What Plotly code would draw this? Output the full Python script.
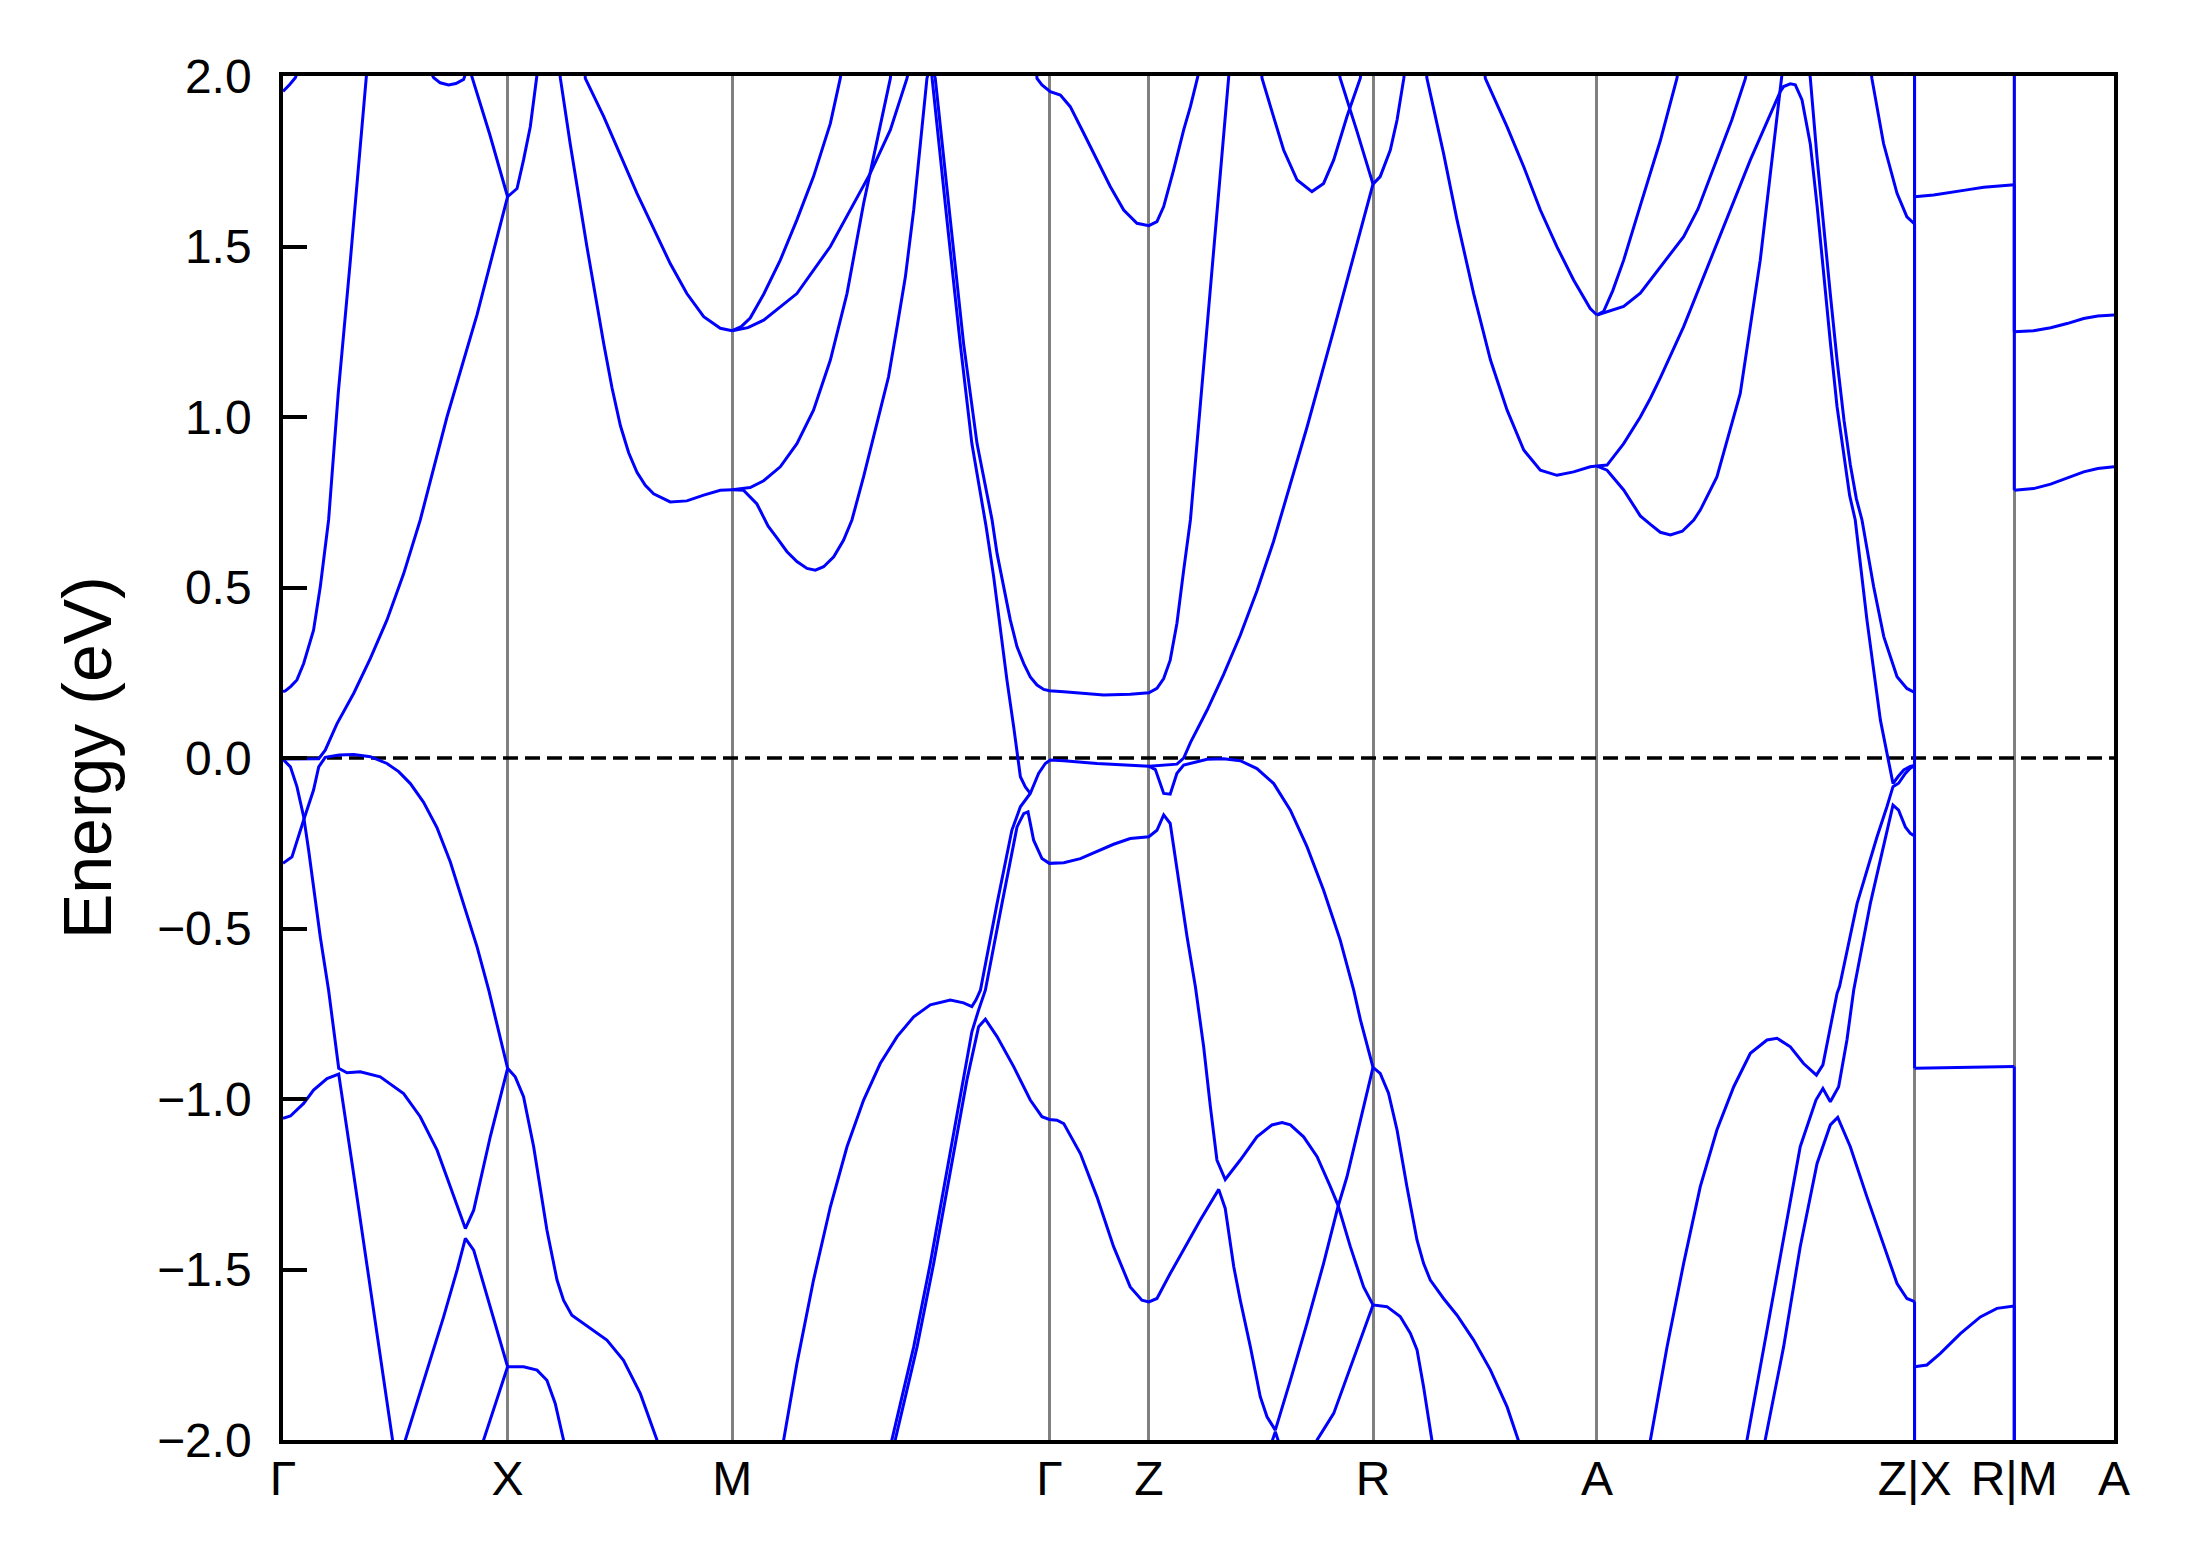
import plotly.graph_objects as go

# ---------------- axes / labels ----------------
K_TICKS = [0.0, 1.0, 2.0, 3.412, 3.855, 4.853, 5.850, 7.264, 7.708, 8.152]
K_LABELS = ["Γ", "X", "M", "Γ", "Z", "R", "A", "Z|X", "R|M", "A"]
E_TICKS = [-2.0, -1.5, -1.0, -0.5, 0.0, 0.5, 1.0, 1.5, 2.0]
E_LABELS = ["−2.0", "−1.5", "−1.0", "−0.5", "0.0", "0.5", "1.0", "1.5", "2.0"]
E_RANGE = [-2.0, 2.0]
FERMI = 0.0

# ---------------- bands (k-distance, energy in eV) ----------------
# Gamma - X - M
g_cb_steep_k = [0.0, 0.010, 0.035, 0.062, 0.092, 0.115, 0.136, 0.166, 0.185, 0.203, 0.246, 0.300, 0.371, 0.39]
g_cb_steep_e = [0.195, 0.197, 0.21, 0.229, 0.277, 0.33, 0.375, 0.502, 0.60, 0.698, 1.07, 1.46, 1.998, 2.14]

g_flat_up_k = [0.0, 0.08, 0.159, 0.188, 0.24, 0.315, 0.389, 0.463, 0.537, 0.611, 0.73, 0.864, 1.0]
g_flat_up_e = [-0.003, -0.003, -0.002, 0.023, 0.10, 0.19, 0.292, 0.405, 0.54, 0.698, 1.0, 1.30, 1.646]

x_upper_k = [0.82, 0.841, 0.92, 1.0, 1.042, 1.071, 1.101, 1.131, 1.14]
x_upper_e = [2.07, 1.998, 1.83, 1.646, 1.67, 1.754, 1.851, 1.993, 2.05]

gx_top_dip_k = [0.65, 0.671, 0.70, 0.737, 0.77, 0.804, 0.82]
gx_top_dip_e = [2.02, 1.995, 1.98, 1.974, 1.978, 1.99, 2.02]

g_top_k = [0.0, 0.03, 0.055, 0.08]
g_top_e = [1.955, 1.975, 1.995, 2.04]

gx_vb1_k = [0.0, 0.033, 0.062, 0.092, 0.114, 0.136, 0.166, 0.203, 0.248, 0.285, 0.344, 0.433,
            0.537, 0.611, 0.686, 0.745, 0.812, 0.849, 0.923, 1.0]
gx_vb1_e = [-0.004, -0.026, -0.084, -0.172, -0.27, -0.378, -0.525, -0.681, -0.910, -0.923, -0.920, -0.935,
            -0.984, -1.052, -1.15, -1.257, -1.380, -1.326, -1.11, -0.910]

gx_vb0_k = [0.0, 0.04, 0.092, 0.136, 0.159, 0.188, 0.25, 0.315, 0.389, 0.463, 0.515, 0.567, 0.626, 0.686, 0.745,
            0.804, 0.864, 0.916, 1.0, 1.034, 1.071, 1.116, 1.175, 1.220, 1.249, 1.286, 1.368, 1.442, 1.516,
            1.591, 1.665, 1.68]
gx_vb0_e = [-0.309, -0.29, -0.182, -0.094, -0.026, 0.002, 0.009, 0.01, 0.004, -0.016, -0.040, -0.075, -0.130, -0.205, -0.305,
            -0.427, -0.554, -0.681, -0.910, -0.935, -0.993, -1.14, -1.384, -1.531, -1.59, -1.634, -1.673, -1.707, -1.766,
            -1.864, -2.0, -2.03]

gx_vb2_k = [0.0, 0.033, 0.092, 0.136, 0.196, 0.248, 0.31, 0.37, 0.43, 0.49]
gx_vb2_e = [-1.057, -1.05, -1.013, -0.974, -0.940, -0.927, -1.20, -1.47, -1.74, -2.01]

x_low_k = [0.54, 0.641, 0.715, 0.775, 0.812, 0.849, 0.923, 1.0, 1.071, 1.131, 1.175, 1.212, 1.249, 1.26]
x_low_e = [-2.01, -1.795, -1.639, -1.502, -1.409, -1.443, -1.609, -1.785, -1.785, -1.795, -1.825, -1.893, -2.0, -2.05]

x_low2_k = [0.88, 0.893, 1.0]
x_low2_e = [-2.05, -2.0, -1.785]

xm_cb1_k = [1.225, 1.235, 1.279, 1.353, 1.428, 1.465, 1.502, 1.539, 1.576, 1.613, 1.650, 1.724, 1.798, 1.873, 1.947, 2.0]
xm_cb1_e = [2.06, 1.993, 1.80, 1.50, 1.215, 1.085, 0.975, 0.895, 0.838, 0.800, 0.775, 0.751, 0.754, 0.771, 0.785, 0.787]

xm_cb2_k = [1.34, 1.346, 1.428, 1.576, 1.724, 1.798, 1.873, 1.947, 2.0]
xm_cb2_e = [2.05, 1.993, 1.881, 1.656, 1.450, 1.362, 1.294, 1.26, 1.253]

# M - Gamma
mg_cb2a_k = [2.0, 2.04, 2.08, 2.14, 2.214, 2.288, 2.362, 2.437, 2.481, 2.49]
mg_cb2a_e = [1.253, 1.265, 1.29, 1.36, 1.46, 1.578, 1.705, 1.861, 1.993, 2.03]

mg_cb2b_k = [2.0, 2.07, 2.14, 2.288, 2.437, 2.615, 2.704, 2.778, 2.79]
mg_cb2b_e = [1.253, 1.262, 1.284, 1.362, 1.5, 1.715, 1.842, 1.993, 2.03]

mg_cb1a_k = [2.0, 2.08, 2.14, 2.214, 2.288, 2.362, 2.437, 2.511, 2.585, 2.63, 2.704, 2.71]
mg_cb1a_e = [0.787, 0.793, 0.813, 0.854, 0.922, 1.02, 1.167, 1.362, 1.626, 1.763, 1.993, 2.03]

mg_cb1b_k = [2.0, 2.05, 2.11, 2.16, 2.20, 2.244, 2.288, 2.333, 2.37, 2.407, 2.452, 2.496, 2.533, 2.585,
             2.659, 2.696, 2.734, 2.771, 2.808, 2.837, 2.867, 2.885]
mg_cb1b_e = [0.787, 0.785, 0.745, 0.68, 0.645, 0.605, 0.576, 0.556, 0.551, 0.561, 0.59, 0.639, 0.698, 0.825,
             1.02, 1.118, 1.265, 1.411, 1.607, 1.80, 1.993, 2.04]

mg_cb3a_k = [2.885, 2.904, 2.971, 3.03, 3.09, 3.157, 3.179, 3.208, 3.238, 3.268, 3.298, 3.327, 3.357, 3.387,
             3.412, 3.476, 3.55, 3.654, 3.772, 3.855, 3.891, 3.921, 3.95, 3.98, 4.01, 4.04, 4.084, 4.21, 4.22]
mg_cb3a_e = [2.04, 1.993, 1.578, 1.216, 0.922, 0.698, 0.6, 0.502, 0.405, 0.326, 0.277, 0.238, 0.214, 0.201,
             0.197, 0.194, 0.19, 0.185, 0.187, 0.191, 0.204, 0.233, 0.287, 0.395, 0.551, 0.698, 1.035, 1.993, 2.07]

mg_cb3b_k = [2.885, 2.89, 2.956, 3.015, 3.067, 3.13, 3.164, 3.194, 3.223, 3.253, 3.283, 3.305, 3.327]
mg_cb3b_e = [2.04, 1.993, 1.578, 1.216, 0.922, 0.68, 0.532, 0.375, 0.229, 0.092, -0.055, -0.085, -0.104]

vb_top_k = [2.215, 2.229, 2.288, 2.362, 2.437, 2.511, 2.585, 2.659, 2.734, 2.808, 2.882, 2.971, 3.03, 3.067,
            3.085, 3.105, 3.179, 3.245, 3.283, 3.327, 3.364, 3.394, 3.416, 3.476, 3.624, 3.772, 3.855, 3.884,
            3.921, 3.95, 3.98, 4.01, 4.04, 4.114, 4.188, 4.262, 4.336, 4.411, 4.485, 4.559, 4.633, 4.707,
            4.767, 4.797, 4.853, 4.885, 4.922, 4.96, 5.004, 5.049, 5.078, 5.108, 5.167, 5.227, 5.301, 5.376,
            5.45, 5.501, 5.52]
vb_top_e = [-2.05, -2.0, -1.776, -1.531, -1.316, -1.14, -1.003, -0.896, -0.817, -0.759, -0.724, -0.71, -0.718, -0.729,
            -0.71, -0.681, -0.427, -0.212, -0.143, -0.104, -0.045, -0.016, -0.006, -0.008, -0.016, -0.022, -0.024, -0.034,
            -0.104, -0.106, -0.045, -0.021, -0.016, -0.004, -0.002, -0.008, -0.031, -0.075, -0.153, -0.26, -0.388, -0.534,
            -0.681, -0.768, -0.907, -0.925, -0.983, -1.091, -1.257, -1.414, -1.482, -1.531, -1.585, -1.634, -1.707, -1.795,
            -1.903, -2.0, -2.04]

vb_dl1_k = [2.70, 2.711, 2.808, 2.882, 2.956, 3.03, 3.067, 3.097, 3.127, 3.201, 3.268, 3.298, 3.317, 3.342,
            3.379, 3.412, 3.476, 3.55, 3.624, 3.698, 3.772, 3.855, 3.891, 3.921, 3.95, 3.98, 4.025, 4.062,
            4.099, 4.129, 4.158, 4.195, 4.262, 4.336, 4.403, 4.448, 4.485, 4.544, 4.604, 4.663, 4.697, 4.752,
            4.811, 4.853, 4.915, 4.974, 5.019, 5.049, 5.078, 5.115, 5.12]
vb_dl1_e = [-2.03, -2.0, -1.727, -1.482, -1.208, -0.944, -0.803, -0.739, -0.681, -0.427, -0.202, -0.163, -0.158, -0.241,
            -0.295, -0.309, -0.307, -0.295, -0.275, -0.253, -0.236, -0.231, -0.212, -0.167, -0.192, -0.329, -0.524, -0.67,
            -0.847, -1.023, -1.179, -1.236, -1.179, -1.111, -1.076, -1.069, -1.076, -1.111, -1.169, -1.257, -1.311, -1.433,
            -1.551, -1.604, -1.609, -1.638, -1.687, -1.736, -1.844, -2.0, -2.04]

vb_dl2_k = [2.715, 2.726, 2.823, 2.897, 2.971, 3.045, 3.097, 3.127, 3.179, 3.253, 3.327, 3.379, 3.412, 3.446,
            3.476, 3.55, 3.624, 3.698, 3.772, 3.824, 3.855, 3.891, 3.95, 4.025, 4.084, 4.166, 4.195, 4.233,
            4.262, 4.307, 4.351, 4.381, 4.418, 4.485, 4.559, 4.633, 4.697, 4.737, 4.797, 4.853]
vb_dl2_e = [-2.03, -2.0, -1.727, -1.482, -1.208, -0.944, -0.788, -0.766, -0.817, -0.905, -1.003, -1.052, -1.06, -1.062,
            -1.072, -1.16, -1.287, -1.433, -1.551, -1.59, -1.595, -1.585, -1.512, -1.424, -1.355, -1.265, -1.321, -1.492,
            -1.59, -1.727, -1.873, -1.932, -1.971, -1.825, -1.658, -1.482, -1.316, -1.228, -1.062, -0.907]

# Gamma - Z - R - A
gz_top_k = [3.35, 3.357, 3.379, 3.416, 3.461, 3.505, 3.565, 3.624, 3.683, 3.743, 3.802, 3.855, 3.891, 3.921,
            3.965, 4.01, 4.04, 4.069, 4.084]
gz_top_e = [2.05, 1.993, 1.974, 1.954, 1.944, 1.91, 1.832, 1.754, 1.676, 1.607, 1.568, 1.561, 1.573, 1.617,
            1.724, 1.842, 1.91, 1.988, 2.03]

zr_cb_k = [3.855, 3.95, 3.98, 4.01, 4.04, 4.114, 4.188, 4.262, 4.336, 4.41, 4.485, 4.559, 4.678, 4.782, 4.853,
           4.885, 4.93, 4.96, 4.99, 5.0]
zr_cb_e = [-0.024, -0.02, -0.018, 0.0, 0.045, 0.14, 0.245, 0.36, 0.49, 0.635, 0.80, 0.97, 1.255, 1.505, 1.683,
           1.705, 1.783, 1.871, 1.993, 2.05]

zr_top_dip_k = [4.35, 4.359, 4.41, 4.455, 4.515, 4.581, 4.633, 4.678, 4.737, 4.796, 4.805]
zr_top_dip_e = [2.05, 1.993, 1.881, 1.783, 1.695, 1.661, 1.685, 1.754, 1.881, 1.993, 2.03]

zr_to_r_k = [4.69, 4.707, 4.782, 4.853]
zr_to_r_e = [2.05, 1.993, 1.837, 1.683]

zr_lambda_k = [4.39, 4.418, 4.445]
zr_lambda_e = [-2.03, -1.976, -2.03]

zr_low_rise_k = [4.59, 4.604, 4.678, 4.752, 4.853]
zr_low_rise_e = [-2.03, -2.0, -1.922, -1.785, -1.604]

ra_cb1_k = [5.085, 5.093, 5.167, 5.227, 5.301, 5.376, 5.45, 5.524, 5.598, 5.672, 5.746, 5.82, 5.85]
ra_cb1_e = [2.05, 1.993, 1.773, 1.578, 1.362, 1.167, 1.020, 0.903, 0.844, 0.829, 0.839, 0.854, 0.856]

ra_cb2_k = [5.345, 5.353, 5.45, 5.524, 5.598, 5.672, 5.746, 5.82, 5.85]
ra_cb2_e = [2.05, 1.993, 1.851, 1.734, 1.607, 1.499, 1.402, 1.318, 1.299]

# A - Z
az_steep_k = [5.85, 5.88, 5.92, 5.969, 6.043, 6.132, 6.206, 6.215]
az_steep_e = [1.299, 1.31, 1.37, 1.46, 1.62, 1.81, 1.993, 2.03]

az_gentle_k = [5.85, 5.969, 6.043, 6.132, 6.236, 6.30, 6.384, 6.45, 6.511, 6.52]
az_gentle_e = [1.299, 1.324, 1.363, 1.441, 1.529, 1.61, 1.754, 1.87, 1.993, 2.03]

az_min_k = [5.85, 5.895, 5.969, 6.043, 6.088, 6.132, 6.177, 6.23, 6.281, 6.31, 6.384, 6.488, 6.577, 6.622,
            6.666, 6.674, 6.68]
az_min_e = [0.856, 0.844, 0.786, 0.71, 0.685, 0.662, 0.654, 0.665, 0.698, 0.727, 0.824, 1.069, 1.46, 1.705,
            1.949, 1.993, 2.04]

az_peak_k = [5.85, 5.895, 5.969, 6.043, 6.088, 6.132, 6.236, 6.384, 6.533, 6.666, 6.681, 6.711, 6.733, 6.763,
             6.8, 6.83, 6.859, 6.889, 6.919, 6.95, 6.975, 7.0, 7.052, 7.112, 7.149, 7.168, 7.19, 7.216, 7.245, 7.264]
az_peak_e = [0.856, 0.859, 0.922, 1.0, 1.055, 1.115, 1.265, 1.509, 1.754, 1.954, 1.969, 1.977, 1.974, 1.93,
             1.80, 1.62, 1.42, 1.22, 1.03, 0.88, 0.77, 0.698, 0.405, 0.111, -0.006, -0.075, -0.055, -0.035, -0.025, -0.022]

az_down_k = [6.79, 6.8, 6.83, 6.859, 6.889, 6.919, 6.95, 6.978, 7.005, 7.03, 7.082, 7.127, 7.186, 7.23, 7.264]
az_down_e = [2.05, 1.993, 1.76, 1.558, 1.36, 1.167, 0.99, 0.86, 0.76, 0.698, 0.502, 0.356, 0.238, 0.204, 0.192]

az_zend_k = [7.065, 7.074, 7.126, 7.186, 7.23, 7.264]
az_zend_e = [2.05, 1.993, 1.802, 1.656, 1.587, 1.566]

az_vb1_k = [6.08, 6.088, 6.162, 6.236, 6.31, 6.384, 6.459, 6.533, 6.607, 6.652, 6.711, 6.77, 6.827, 6.856, 6.919,
            6.93, 7.008, 7.097, 7.141, 7.168, 7.193, 7.223, 7.245, 7.264]
az_vb1_e = [-2.05, -2.0, -1.727, -1.482, -1.257, -1.091, -0.964, -0.866, -0.827, -0.822, -0.847, -0.896, -0.93, -0.9, -0.69,
            -0.67, -0.427, -0.231, -0.143, -0.084, -0.074, -0.045, -0.03, -0.022]

az_vb2_k = [6.51, 6.518, 6.607, 6.681, 6.755, 6.825, 6.856, 6.889, 6.926, 6.963, 6.993, 7.067, 7.127, 7.168, 7.193,
            7.223, 7.245, 7.264]
az_vb2_e = [-2.05, -2.0, -1.678, -1.414, -1.14, -1.003, -0.969, -1.008, -0.964, -0.827, -0.681, -0.427, -0.26, -0.138, -0.153,
            -0.202, -0.221, -0.229]

az_vb3_k = [6.59, 6.599, 6.681, 6.755, 6.83, 6.889, 6.922, 6.978, 7.052, 7.127, 7.186, 7.23, 7.264]
az_vb3_e = [-2.05, -2.0, -1.727, -1.433, -1.189, -1.076, -1.054, -1.14, -1.287, -1.433, -1.541, -1.585, -1.594]

# X - R and M - A
xr_hi_k = [7.264, 7.349, 7.497, 7.572, 7.708]
xr_hi_e = [1.646, 1.651, 1.666, 1.674, 1.681]
xr_mid_k = [7.264, 7.40, 7.55, 7.708]
xr_mid_e = [-0.910, -0.909, -0.907, -0.905]
xr_lo_k = [7.264, 7.319, 7.379, 7.468, 7.557, 7.631, 7.708]
xr_lo_e = [-1.785, -1.78, -1.746, -1.688, -1.639, -1.614, -1.607]
ma_hi_k = [7.708, 7.794, 7.87, 7.943, 8.017, 8.08, 8.152]
ma_hi_e = [1.25, 1.253, 1.262, 1.274, 1.289, 1.296, 1.299]
ma_lo_k = [7.708, 7.794, 7.87, 7.943, 8.017, 8.08, 8.152]
ma_lo_e = [0.785, 0.79, 0.803, 0.82, 0.839, 0.849, 0.854]

# path discontinuities (band energy at end of one segment -> start of the next)
JUMP_ZX_K = 7.264
jump_zx_from = [2.6, 1.566, 0.192, -1.594, -2.6]
jump_zx_to = [1.646, -0.910, 2.6, -2.6, -1.785]
JUMP_RM_K = 7.708
jump_rm_from = [2.6, 1.681, -0.905, -1.607]
jump_rm_to = [0.785, 1.250, -2.6, -2.6]

BANDS = [
    (g_cb_steep_k, g_cb_steep_e), (g_flat_up_k, g_flat_up_e), (x_upper_k, x_upper_e),
    (gx_top_dip_k, gx_top_dip_e), (g_top_k, g_top_e), (gx_vb1_k, gx_vb1_e), (gx_vb0_k, gx_vb0_e),
    (gx_vb2_k, gx_vb2_e), (x_low_k, x_low_e), (x_low2_k, x_low2_e), (xm_cb1_k, xm_cb1_e),
    (xm_cb2_k, xm_cb2_e), (mg_cb2a_k, mg_cb2a_e), (mg_cb2b_k, mg_cb2b_e), (mg_cb1a_k, mg_cb1a_e),
    (mg_cb1b_k, mg_cb1b_e), (mg_cb3a_k, mg_cb3a_e), (mg_cb3b_k, mg_cb3b_e), (vb_top_k, vb_top_e),
    (vb_dl1_k, vb_dl1_e), (vb_dl2_k, vb_dl2_e), (gz_top_k, gz_top_e), (zr_cb_k, zr_cb_e),
    (zr_top_dip_k, zr_top_dip_e), (zr_to_r_k, zr_to_r_e), (zr_lambda_k, zr_lambda_e),
    (zr_low_rise_k, zr_low_rise_e), (ra_cb1_k, ra_cb1_e), (ra_cb2_k, ra_cb2_e),
    (az_steep_k, az_steep_e), (az_gentle_k, az_gentle_e), (az_min_k, az_min_e), (az_peak_k, az_peak_e),
    (az_down_k, az_down_e), (az_zend_k, az_zend_e), (az_vb1_k, az_vb1_e), (az_vb2_k, az_vb2_e),
    (az_vb3_k, az_vb3_e), (xr_hi_k, xr_hi_e), (xr_mid_k, xr_mid_e), (xr_lo_k, xr_lo_e),
    (ma_hi_k, ma_hi_e), (ma_lo_k, ma_lo_e),
]
for e0, e1 in zip(jump_zx_from, jump_zx_to):
    BANDS.append(([JUMP_ZX_K, JUMP_ZX_K], [e0, e1]))
for e0, e1 in zip(jump_rm_from, jump_rm_to):
    BANDS.append(([JUMP_RM_K, JUMP_RM_K], [e0, e1]))

BAND_COLOR = "#0000ff"
FONT = "Liberation Sans, Arial, Helvetica, sans-serif"

fig = go.Figure()
fig.add_trace(go.Scatter(x=[K_TICKS[0], K_TICKS[-1]], y=[FERMI, FERMI], mode="lines",
                         line=dict(color="black", width=3.3, dash="15px,7px"),
                         hoverinfo="skip", showlegend=False))
for kk, ee in BANDS:
    fig.add_trace(go.Scatter(x=kk, y=ee, mode="lines",
                             line=dict(color=BAND_COLOR, width=3.0),
                             hoverinfo="skip", showlegend=False))

fig.update_layout(
    width=2189, height=1567,
    margin=dict(l=283, r=75, t=76, b=127),
    paper_bgcolor="white", plot_bgcolor="white",
    font=dict(family=FONT, color="black", size=48),
    showlegend=False,
    annotations=[dict(text="Energy (eV)", textangle=-90, xref="paper", yref="paper",
                      x=-0.107, y=0.5, xanchor="center", yanchor="middle", showarrow=False,
                      font=dict(family=FONT, size=68, color="black"))],
)
fig.update_xaxes(range=[K_TICKS[0], K_TICKS[-1]], tickmode="array", tickvals=K_TICKS, ticktext=K_LABELS,
                 showgrid=True, gridcolor="#808080", gridwidth=3.3, zeroline=False,
                 showline=True, linecolor="black", linewidth=3.5, mirror=True,
                 ticks="", tickfont=dict(family=FONT, size=48, color="black"), ticklabelstandoff=-6)
fig.update_yaxes(range=E_RANGE, tickmode="array", tickvals=E_TICKS, ticktext=E_LABELS,
                 showgrid=False, zeroline=False,
                 showline=True, linecolor="black", linewidth=3.5, mirror=True,
                 ticks="inside", ticklen=24, tickwidth=3.5, tickcolor="black",
                 tickfont=dict(family=FONT, size=48, color="black"), ticklabelstandoff=18)

fig.write_html("out.html", config={"displayModeBar": False},
               post_script="document.body.style.margin='0';document.body.style.padding='0';")
